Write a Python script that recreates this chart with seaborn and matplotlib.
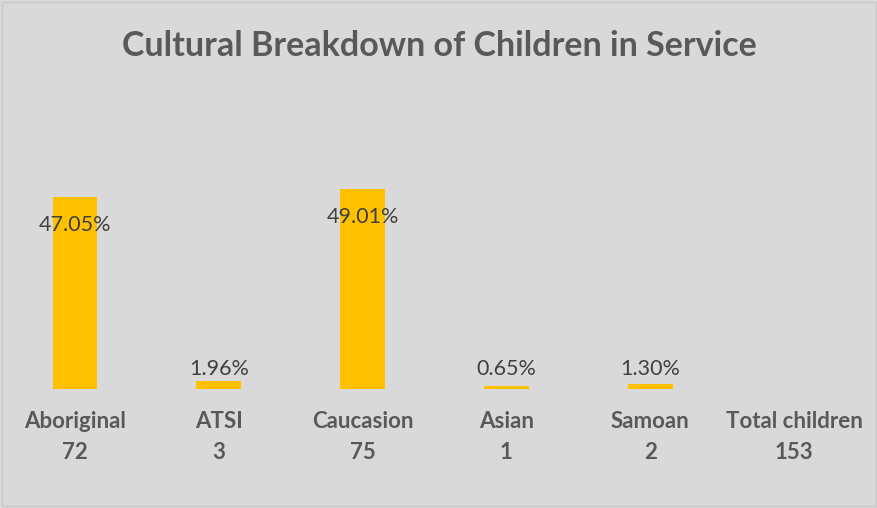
import numpy as np
import pandas as pd
import matplotlib
matplotlib.use("Agg")
import matplotlib.pyplot as plt
import seaborn as sns

categories = ["Aboriginal", "ATSI", "Caucasion", "Asian", "Samoan", "Total children"]
counts = [72, 3, 75, 1, 2, 153]
percents = [47.05, 1.96, 49.01, 0.65, 1.30, np.nan]
title = "Cultural Breakdown of Children in Service"

sns.set_theme(style="white")
plt.rcParams["font.family"] = ["Lato", "DejaVu Sans"]

df = pd.DataFrame({"cat": categories, "pct": percents})

fig = plt.figure(figsize=(8.78, 5.08), dpi=100)
fig.patch.set_facecolor("#d9d9d9")
ax = fig.add_axes([3 / 878, 1 - 389 / 508, 863 / 878, 245 / 508])
ax.set_facecolor("#d9d9d9")

sns.barplot(data=df, x="cat", y="pct", color="#ffc000", saturation=1,
            width=0.31, linewidth=0, edgecolor="none", ax=ax)
ax.set_ylim(0, 60)
ax.set_xlim(-0.5, len(categories) - 0.5)

for i, v in enumerate(percents):
    if np.isnan(v):
        continue
    if v > 10:
        ax.annotate(f"{v:.2f}%", xy=(i, v), xytext=(0, -28), textcoords="offset pixels",
                    ha="center", va="center", fontsize=15.5, color="#404040")
    else:
        ax.annotate(f"{v:.2f}%", xy=(i, 0), xytext=(0, 20), textcoords="offset pixels",
                    ha="center", va="center", fontsize=15.5, color="#404040")

ax.set_xticks(range(len(categories)))
ax.set_xticklabels([f"{c}\n{n}" for c, n in zip(categories, counts)],
                   fontsize=16, fontweight="bold", color="#595959", linespacing=1.55)
ax.tick_params(axis="x", length=0, pad=16)
ax.set_yticks([])
ax.set_xlabel("")
ax.set_ylabel("")
for s in ax.spines.values():
    s.set_visible(False)

fig.text(0.5, 1 - 46 / 508, title, ha="center", va="center", fontsize=24.5,
         fontweight="bold", color="#595959")

border = matplotlib.patches.Rectangle((0.002, 0.003), 0.996, 0.994, transform=fig.transFigure,
                                      fill=False, edgecolor="#c8c8c8", linewidth=1)
fig.patches.append(border)

fig.savefig("out.png", dpi=100, facecolor=fig.get_facecolor())
